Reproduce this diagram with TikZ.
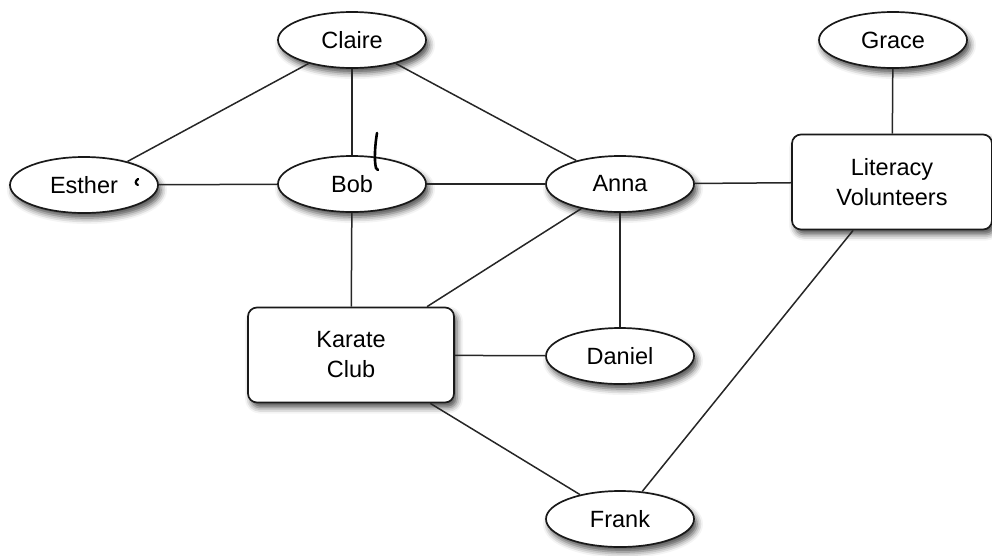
\documentclass[tikz,border=0pt]{standalone}
\usepackage{fontspec}
\setmainfont{Liberation Sans}
\usetikzlibrary{shapes.geometric,shadows.blur}
\begin{document}
\begin{tikzpicture}[x=1pt,y=-1pt,
  base/.style={draw=black!90,line width=1.7pt,fill=white,text=black,
    font=\fontsize{23.5}{30}\selectfont,align=center,inner sep=0pt,
    blur shadow={shadow xshift=3pt,shadow yshift=-5pt,shadow blur radius=6pt,shadow opacity=70}},
  person/.style={base,ellipse,minimum width=148pt,minimum height=56pt},
  club/.style={base,rectangle,rounded corners=9pt,minimum width=206pt,minimum height=95pt},
  tie/.style={draw=black!85,line width=1.5pt},
  pen/.style={draw=black,line width=2.6pt,line cap=round}]
\useasboundingbox (0,0) rectangle (992,555);

% people and clubs
\node[person] (claire) at (352,40) {Claire};
\node[person] (grace)  at (893,40) {Grace};
\node[person] (esther) at (84,185) {Esther};
\node[person] (bob)    at (352,184) {Bob};
\node[person] (anna)   at (620,184) {Anna};
\node[club,minimum width=200pt] (lit) at (892,182) {Literacy\\Volunteers};
\node[club] (karate) at (351,355) {Karate\\Club};
\node[person] (daniel) at (620,356) {Daniel};
\node[person] (frank)  at (620,519) {Frank};

% affiliations
\draw[tie] (claire) -- (esther);
\draw[tie] (claire) -- (bob);
\draw[tie] (claire) -- (anna);
\draw[tie] (esther) -- (bob);
\draw[tie] (bob) -- (anna);
\draw[tie] (anna) -- (lit);
\draw[tie] (grace) -- (lit);
\draw[tie] (bob) -- (karate);
\draw[tie] (anna) -- (karate);
\draw[tie] (anna) -- (daniel);
\draw[tie] (karate) -- (daniel);
\draw[tie] (karate) -- (frank);
\draw[tie] (lit) -- (frank);

% hand-drawn pen marks
\draw[pen] (377,133) .. controls (375,145) and (374,160) .. (376,168) -- (378,170);
\draw[pen,line width=2.2pt] (138,179) .. controls (135,181) and (135,184) .. (138,185);
\end{tikzpicture}
\end{document}
